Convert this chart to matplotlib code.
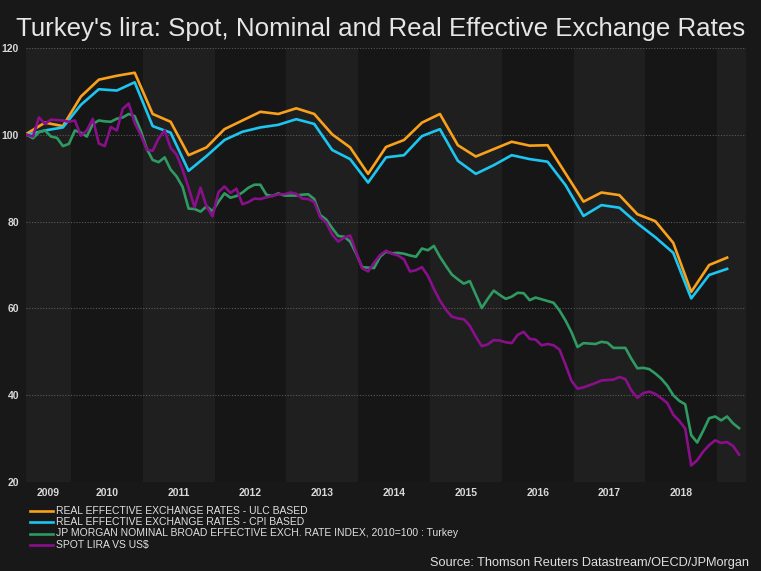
import matplotlib
matplotlib.use("Agg")
import matplotlib.pyplot as plt
from matplotlib.lines import Line2D
import numpy as np

# monthly series, starting mid-May 2009 (decimal years)
start = 2009.387
green = [100.0, 99.2, 100.6, 101.0, 99.6, 99.3, 97.4, 97.9, 101.0, 100.5,
         99.6, 102.5, 103.3, 103.1, 103.0, 103.7, 104.0, 104.8, 104.3, 101.0,
         96.8, 94.2, 93.7, 94.8, 92.0, 90.4, 88.0, 83.0, 82.9, 82.3,
         83.5, 82.4, 84.6, 86.5, 85.5, 85.9, 86.7, 87.8, 88.5, 88.5,
         86.2, 85.9, 86.5, 86.0, 86.0, 86.0, 86.2, 86.3, 85.2, 81.5,
         80.5, 78.5, 76.7, 76.5, 75.4, 72.7, 69.5, 69.4, 69.3, 71.9,
         73.1, 72.7, 72.8, 72.6, 72.2, 71.9, 73.8, 73.4, 74.4, 71.9,
         69.8, 67.8, 66.7, 65.7, 66.3, 63.2, 60.1, 62.2, 64.1, 63.1,
         62.2, 62.7, 63.6, 63.5, 61.9, 62.5, 62.1, 61.7, 61.3, 59.5,
         57.2, 54.5, 51.1, 52.0, 51.9, 51.8, 52.3, 52.1, 50.9, 50.9,
         50.9, 48.4, 46.2, 46.3, 46.0, 45.0, 43.8, 42.2, 40.0, 38.7,
         37.9, 30.8, 29.1, 31.8, 34.7, 35.1, 34.2, 35.1, 33.5, 32.4]
spot = [100.0, 99.6, 104.0, 102.5, 103.5, 103.4, 103.3, 103.0, 103.3, 99.8,
        101.0, 103.7, 98.0, 97.4, 101.8, 101.0, 106.0, 107.2, 102.7, 100.0,
        96.6, 96.3, 99.2, 101.0, 97.0, 95.4, 92.0, 87.8, 83.3, 87.8,
        83.5, 81.2, 86.8, 88.1, 86.6, 87.6, 84.0, 84.5, 85.3, 85.2,
        85.6, 85.9, 86.3, 86.3, 86.7, 86.4, 85.3, 85.2, 84.5, 81.0,
        79.8, 77.0, 75.4, 76.3, 76.8, 73.0, 69.3, 68.5, 70.5, 72.3,
        73.3, 72.6, 72.2, 71.3, 68.5, 68.8, 69.5, 67.5, 64.5, 61.8,
        59.7, 58.1, 57.7, 57.5, 56.0, 53.5, 51.3, 51.7, 52.7, 52.6,
        52.2, 52.0, 53.9, 54.6, 53.0, 52.8, 51.5, 51.8, 51.5, 50.5,
        47.0, 43.3, 41.5, 41.8, 42.3, 42.8, 43.4, 43.5, 43.6, 44.2,
        43.7, 41.1, 39.4, 40.5, 40.8, 40.3, 39.3, 38.2, 35.5, 34.1,
        32.3, 23.8, 25.0, 27.0, 28.5, 29.6, 29.0, 29.2, 28.3, 26.3]
# quarterly series
ulc = [100.3, 102.8, 102.0, 108.8, 112.7, 113.6, 114.3, 104.8, 103.0, 95.3,
       97.1, 101.3, 103.3, 105.3, 104.8, 106.1, 104.8, 100.1, 97.1, 91.0,
       97.2, 98.8, 102.8, 104.8, 97.6, 95.0, 96.7, 98.4, 97.5, 97.6,
       91.1, 84.6, 86.7, 86.1, 81.7, 80.1, 75.1, 63.8, 70.0, 71.7]
cpi = [100.0, 101.0, 101.7, 106.9, 110.5, 110.2, 112.1, 102.0, 100.5, 91.7,
       95.1, 98.8, 100.7, 101.7, 102.3, 103.6, 102.5, 96.5, 94.4, 89.0,
       94.8, 95.3, 99.7, 101.3, 94.0, 91.0, 93.0, 95.3, 94.4, 93.8,
       88.4, 81.3, 83.8, 83.2, 79.6, 76.4, 72.8, 62.3, 67.7, 69.1]

labels = ["REAL EFFECTIVE EXCHANGE RATES - ULC BASED",
          "REAL EFFECTIVE EXCHANGE RATES - CPI BASED",
          "JP MORGAN NOMINAL BROAD EFFECTIVE EXCH. RATE INDEX, 2010=100 : Turkey",
          "SPOT LIRA VS US$"]
colors = ["#f9a11b", "#1cc6f0", "#2f9a62", "#8a0f8a"]
years = list(range(2009, 2019))

t_m = start + np.arange(len(green)) / 12.0
t_q = t_m[::3][:len(ulc)]
x0, x1 = 2009.373, 2019.40

fig = plt.figure(figsize=(7.61, 5.71), dpi=100, facecolor="#181818")
ax = fig.add_axes([26 / 761, 1 - 482 / 571, 720 / 761, 434 / 571])
ax.set_facecolor("#181818")

# alternating year bands
for y in range(2009, 2020):
    ax.axvspan(max(y, x0), min(y + 1, x1), color="#1f1f1f" if y % 2 else "#161616",
               lw=0, zorder=0)

for v in range(20, 121, 20):
    ax.axhline(v, color="#5a5a5a", lw=0.8, ls=(0, (1, 1.5)), zorder=1)

ax.plot(t_q, ulc, color=colors[0], lw=1.9, zorder=3)
ax.plot(t_q, cpi, color=colors[1], lw=1.9, zorder=3)
ax.plot(t_m, green, color=colors[2], lw=1.9, zorder=3)
ax.plot(t_m, spot, color=colors[3], lw=1.9, zorder=3)

ax.set_xlim(x0, x1)
ax.set_ylim(20, 120)
ax.set_yticks(range(20, 121, 20))
xt = [(x0 + 2010) / 2] + [y + 0.5 for y in years[1:]]
ax.set_xticks(xt)
ax.set_xticklabels([str(y) for y in years])
ax.tick_params(length=0, colors="#d8d8d8", labelsize=7.5)
ax.tick_params(axis="y", pad=5)
ax.tick_params(axis="x", pad=4)
for lab in ax.get_xticklabels() + ax.get_yticklabels():
    lab.set_fontweight("bold")
    lab.set_family("Liberation Sans")
for s in ax.spines.values():
    s.set_visible(False)

# legend rows below the axes
for k, (lab, c) in enumerate(zip(labels, colors)):
    yy = 1 - (510.7 + 11.4 * k) / 571
    fig.add_artist(Line2D([30 / 761, 53 / 761], [yy, yy], color=c, lw=1.9))
    fig.text(56 / 761, yy, lab, color="#e0e0e0", fontsize=7.45,
             family="Liberation Sans", va="center", ha="left")

fig.text(0.5, 1 - 29 / 571, "Turkey's lira: Spot, Nominal and Real Effective Exchange Rates",
         color="#e6e6e6", fontsize=18.6, family="Liberation Sans",
         ha="center", va="center")
fig.text(749 / 761, 1 - 563 / 571, "Source: Thomson Reuters Datastream/OECD/JPMorgan",
         color="#e0e0e0", fontsize=9.2, family="Liberation Sans", ha="right", va="center")

fig.savefig("out.png", dpi=100, facecolor=fig.get_facecolor())
